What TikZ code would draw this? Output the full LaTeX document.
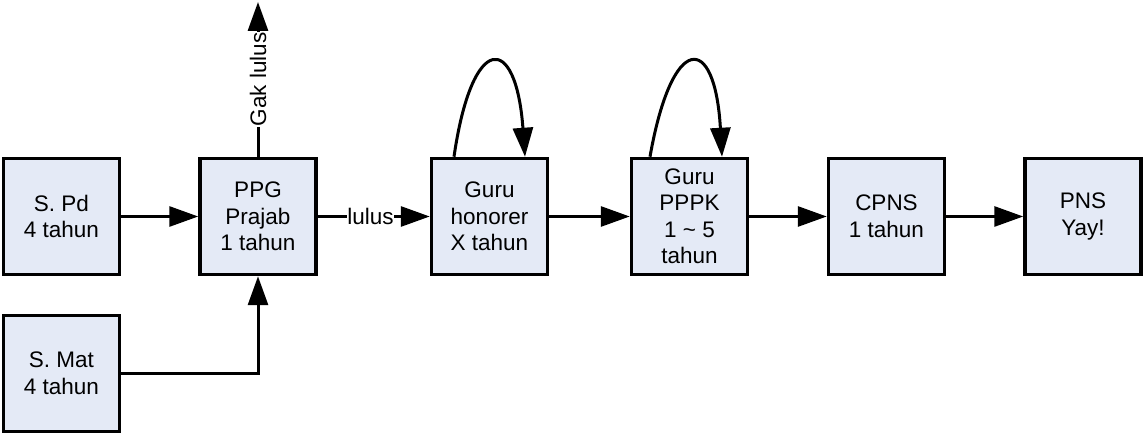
\documentclass[tikz,border=0pt]{standalone}
\usepackage{fontspec}
\setmainfont{Liberation Sans}
\usetikzlibrary{arrows.meta}
\definecolor{boxfill}{RGB}{228,234,246}
\tikzset{
  stagebox/.style={draw=black, fill=boxfill, line width=3.5pt, minimum width=116pt, minimum height=116pt, align=center, inner sep=0pt, font=\fontsize{22.5}{26.5}\selectfont},
  conn/.style={line width=3pt, -{Triangle[length=29pt,width=20pt]}},
  lbl/.style={fill=white, inner sep=0.5pt, font=\fontsize{22.5}{26}\selectfont}
}
\begin{document}
\begin{tikzpicture}[x=1pt,y=-1pt]
\useasboundingbox (0,0) rectangle (1144,435);
\node[stagebox] (spd) at (61.5,216.5) {S. Pd\\4 tahun};
\node[stagebox] (smat) at (61.5,373.5) {S. Mat\\4 tahun};
\node[stagebox] (ppg) at (258,216.5) {PPG\\Prajab\\1 tahun};
\node[stagebox] (hon) at (489.5,216.5) {Guru\\honorer\\X tahun};
\node[stagebox] (pppk) at (689.5,216.5) {Guru\\PPPK\\1 \textasciitilde{} 5\\tahun};
\node[stagebox] (cpns) at (886.5,216.5) {CPNS\\1 tahun};
\node[stagebox] (pns) at (1083,216.5) {PNS\\Yay!};
\coordinate (gak) at (258,2);
\draw[conn] (spd) -- (ppg);
\draw[conn] (smat.east) -| (ppg.south);
\draw[conn] (ppg.north) -- node[lbl, rotate=90, pos=0.5] {Gak lulus} (gak);
\draw[conn] (ppg) -- node[lbl, pos=0.47] {lulus} (hon);
\draw[conn] (hon) -- (pppk);
\draw[conn] (pppk) -- (cpns);
\draw[conn] (cpns) -- (pns);
\draw[conn] ([xshift=-35.5pt]hon.north) .. controls (472,32) and (516,32) .. ([xshift=35.5pt]hon.north);
\draw[conn] ([xshift=-39.5pt]pppk.north) .. controls (672,32) and (715,32) .. ([xshift=32.5pt]pppk.north);
\end{tikzpicture}
\end{document}
